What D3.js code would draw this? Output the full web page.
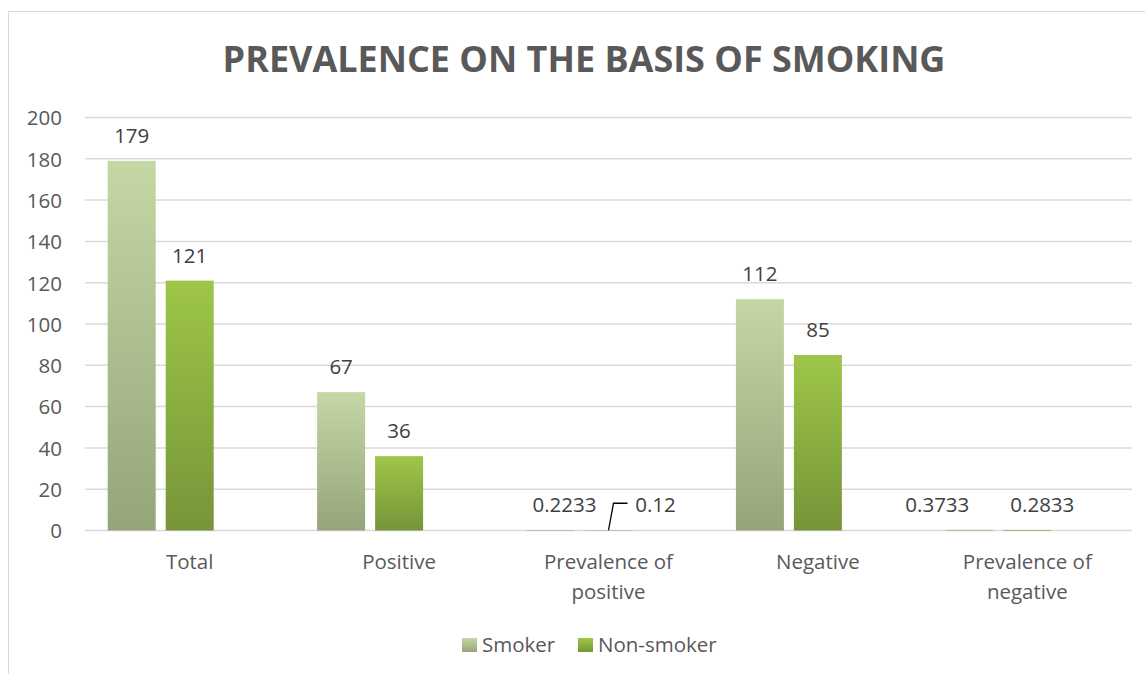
<!DOCTYPE html>
<html>
<head>
<meta charset="utf-8">
<script src="https://cdn.jsdelivr.net/npm/d3@7"></script>
<style>
  html, body { margin: 0; padding: 0; background: #fff; }
  svg { display: block; }
</style>
</head>
<body>
<svg id="chart" width="1145" height="674"></svg>
<script>
// ---- data ----
const categories = ["Total", "Positive", "Prevalence of positive", "Negative", "Prevalence of negative"];
const seriesNames = ["Smoker", "Non-smoker"];
const smoker = [179, 67, 0.2233, 112, 0.3733];
const nonSmoker = [121, 36, 0.12, 85, 0.2833];
const yTicks = [0, 20, 40, 60, 80, 100, 120, 140, 160, 180, 200];
const title = "PREVALENCE ON THE BASIS OF SMOKING";

// label nudges (Excel moved overlapping small labels sideways)
const smokerLabelDx = [0, 0, 14, 0, -32];
const nonSmokerLabelDx = [0, 0, 47, 0, 15];

const svg = d3.select("#chart");
const font = "'Open Sans', 'Noto Sans', sans-serif";
const fs = 20.5;

// border
svg.append("rect").attr("x", 8.5).attr("y", 11.5).attr("width", 1160).attr("height", 700)
  .attr("fill", "#fff").attr("stroke", "#D9D9D9").attr("stroke-width", 1);

// gradients
const defs = svg.append("defs");
function grad(id, top, bottom) {
  const g = defs.append("linearGradient").attr("id", id)
    .attr("x1", 0).attr("y1", 0).attr("x2", 0).attr("y2", 1);
  g.append("stop").attr("offset", "0%").attr("stop-color", top);
  g.append("stop").attr("offset", "100%").attr("stop-color", bottom);
}
grad("gSmoker", "#C4D7A4", "#95A57A");
grad("gNon", "#9EC648", "#769539");
const fills = ["url(#gSmoker)", "url(#gNon)"];

const plot = { left: 85, right: 1132, top: 117.5, bottom: 530.5 };

const x0 = d3.scaleBand().domain(categories)
  .range([plot.left, plot.right]).paddingInner(0.217).paddingOuter(0.1085);
const x1 = d3.scaleBand().domain([0, 1, 2])
  .range([0, x0.bandwidth()]).paddingInner(0.1724).paddingOuter(0);
const y = d3.scaleLinear().domain([0, 200]).range([plot.bottom, plot.top]);

// gridlines
svg.append("g").selectAll("line").data(yTicks).join("line")
  .attr("x1", plot.left).attr("x2", plot.right)
  .attr("y1", d => y(d)).attr("y2", d => y(d))
  .attr("stroke", "#D9D9D9").attr("stroke-width", 1.5);

// y axis labels
const yAxis = d3.axisLeft(y).tickValues(yTicks).tickSize(0).tickPadding(0);
const ya = svg.append("g").attr("transform", "translate(62,0)").call(yAxis);
ya.select(".domain").remove();
ya.selectAll("text").attr("font-family", font).attr("font-size", fs)
  .attr("fill", "#595959").attr("dy", "0.36em");

// bars
const series = [smoker, nonSmoker];
const labelDx = [smokerLabelDx, nonSmokerLabelDx];
series.forEach((vals, si) => {
  const g = svg.append("g");
  g.selectAll("rect").data(vals).join("rect")
    .attr("x", (d, i) => x0(categories[i]) + x1(si))
    .attr("width", x1.bandwidth())
    .attr("y", d => y(d))
    .attr("height", d => y(0) - y(d))
    .attr("fill", fills[si]);
  g.selectAll("text").data(vals).join("text")
    .attr("x", (d, i) => x0(categories[i]) + x1(si) + x1.bandwidth() / 2 + labelDx[si][i])
    .attr("y", d => y(d) - 18)
    .attr("text-anchor", "middle")
    .attr("font-family", font).attr("font-size", fs).attr("fill", "#404040")
    .text(d => d);
});

// leader line for the moved 0.12 label
{
  const i = 2;
  const bx = x0(categories[i]) + x1(1) + x1.bandwidth() / 2;
  const by = y(nonSmoker[i]);
  svg.append("path")
    .attr("d", `M${bx},${by} L${bx + 5},${by - 27} L${bx + 19},${by - 27}`)
    .attr("fill", "none").attr("stroke", "#000").attr("stroke-width", 1.3);
}

// category labels
const catG = svg.append("g");
categories.forEach(c => {
  const cx = x0(c) + x1(1) + x1.bandwidth() / 2;
  const words = c.startsWith("Prevalence") ? ["Prevalence of", c.replace("Prevalence of ", "")] : [c];
  const t = catG.append("text").attr("text-anchor", "middle")
    .attr("font-family", font).attr("font-size", fs).attr("fill", "#595959");
  words.forEach((w, k) => {
    t.append("tspan").attr("x", cx).attr("y", 569 + k * 30).text(w);
  });
});

// title
const tt = svg.append("text").attr("x", 584).attr("y", 72).attr("text-anchor", "middle")
  .attr("font-family", font).attr("font-weight", "bold").attr("font-size", 36)
  .attr("fill", "#595959").text(title);
const tl = tt.node().getComputedTextLength();
if (tl > 0) tt.attr("font-size", 36 * 723 / tl);

// legend
const legend = svg.append("g");
const legendX = [462, 578];
seriesNames.forEach((n, i) => {
  legend.append("rect").attr("x", legendX[i]).attr("y", 638).attr("width", 15).attr("height", 14)
    .attr("fill", fills[i]);
  legend.append("text").attr("x", legendX[i] + 20).attr("y", 652)
    .attr("font-family", font).attr("font-size", fs).attr("fill", "#595959").text(n);
});
</script>
</body>
</html>
